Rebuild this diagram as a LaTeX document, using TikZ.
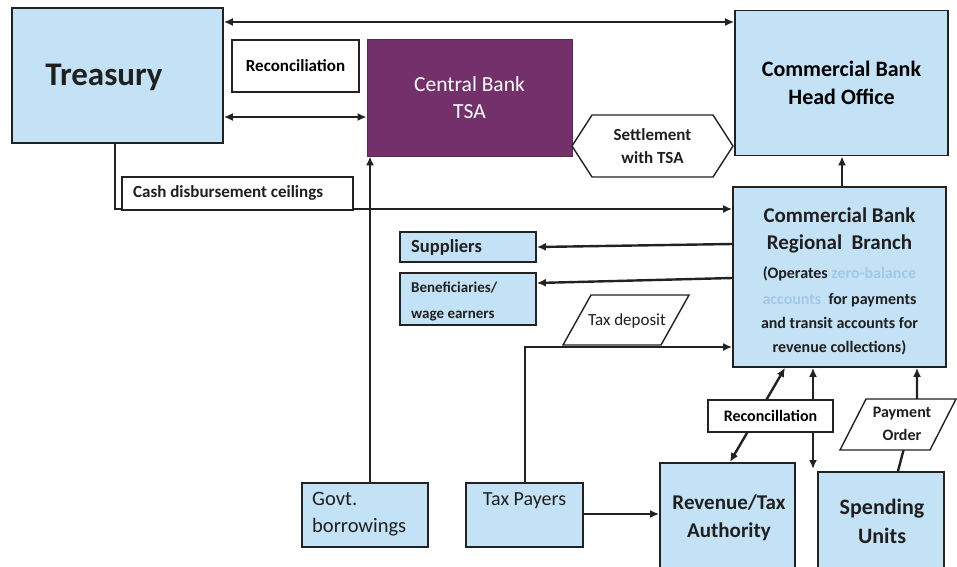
\documentclass[tikz,border=0pt]{standalone}
\usepackage{fontspec}
\setmainfont{Carlito}
\usetikzlibrary{arrows.meta}
\pgfdeclarelayer{background}
\pgfdeclarelayer{canvas}
\pgfsetlayers{canvas,background,main}
\definecolor{boxblue}{HTML}{C4E2F5}
\definecolor{tsapurple}{HTML}{74306B}
\definecolor{edgegrey}{HTML}{222222}
\definecolor{zbablue}{HTML}{A3C8E6}
\begin{document}
\begin{tikzpicture}[x=1pt,y=-1pt,
  bluebox/.style={draw=edgegrey, line width=1.7pt, fill=boxblue, inner sep=0pt},
  whitebox/.style={draw=edgegrey, line width=1.4pt, fill=white, inner sep=0pt},
  tsabox/.style={draw=tsapurple!80!black, line width=0.8pt, fill=tsapurple, inner sep=0pt, text=white},
  txt/.style={inner sep=0pt, text=black!88},
  conn/.style={draw=edgegrey, line width=2.4pt, -{Latex[length=9pt,width=8pt]}},
  biconn/.style={draw=edgegrey, line width=2.4pt, {Latex[length=9pt,width=8pt]}-{Latex[length=9pt,width=8pt]}},
]
\useasboundingbox (0,0) rectangle (957,566);
\begin{pgfonlayer}{canvas}
  \fill[white] (0,0) rectangle (957,566);
\end{pgfonlayer}

% ---- main boxes ----
\node[bluebox, minimum width=211pt, minimum height=135pt] (treasury) at (117.5,75.5) {};
\node[txt, font=\fontsize{33}{38}\selectfont\bfseries] (treasurylbl) at (104,77) {Treasury};

\node[whitebox, minimum width=127pt, minimum height=52pt] (recontop) at (295.5,66)
  {\fontsize{17}{20}\selectfont\bfseries Reconciliation};

\node[tsabox, minimum width=205pt, minimum height=117pt, align=center,
      font=\fontsize{21.5}{27}\selectfont] (cbank) at (469.5,97.5) {Central Bank\\TSA};

\node[bluebox, minimum width=213pt, minimum height=145pt, align=center,
      font=\fontsize{22}{28}\selectfont\bfseries] (hoffice) at (841.5,83) {Commercial Bank\\Head Office};

% settlement hexagon
\filldraw[draw=edgegrey, line width=1.4pt, fill=white]
  (572,146) -- (592,115) -- (713,115) -- (733,146) -- (713,177) -- (592,177) -- cycle;
\node[txt, align=center, font=\fontsize{17}{23}\selectfont\bfseries] (settle) at (652.5,146)
  {Settlement\\with TSA};

\node[whitebox, minimum width=231pt, minimum height=33pt] (cashbox) at (237.5,193.5) {};
\node[txt, anchor=west, font=\fontsize{17}{20}\selectfont\bfseries] (cashlbl) at (133,193)
  {Cash disbursement ceilings};

\node[bluebox, minimum width=213pt, minimum height=180pt] (rbranch) at (839.5,277) {};
\node[txt, align=center, font=\fontsize{16}{24}\selectfont\bfseries] (rbranchlbl) at (839.5,281)
  {{\fontsize{21}{28}\selectfont Commercial Bank}\\[3pt]
   {\fontsize{21}{28}\selectfont Regional\ \ Branch}\\[5pt]
   (Operates \textcolor{zbablue}{zero-balance}\\[2pt]
   \textcolor{zbablue}{accounts}\ \ for payments\\
   and transit accounts for\\
   revenue collections)};

\node[bluebox, minimum width=136pt, minimum height=30pt] (suppliers) at (468,247) {};
\node[txt, anchor=west, font=\fontsize{18.5}{22}\selectfont\bfseries] (supplierslbl) at (411,247) {Suppliers};

\node[bluebox, minimum width=136pt, minimum height=52pt] (benef) at (468,299) {};
\node[txt, anchor=west, align=left, font=\fontsize{15}{26}\selectfont\bfseries] (beneflbl) at (411,301)
  {Beneficiaries/\\wage earners};

% tax deposit parallelogram
\filldraw[draw=edgegrey, line width=1.4pt, fill=white]
  (563,345) -- (591,295) -- (689,295) -- (661,345) -- cycle;
\node[txt, font=\fontsize{17}{20}\selectfont] (taxdep) at (627,321) {Tax deposit};

% ---- bottom row ----
\node[bluebox, minimum width=126pt, minimum height=64pt] (govt) at (365,515) {};
\node[txt, anchor=west, align=left, font=\fontsize{20.5}{27}\selectfont] (govtlbl) at (312,514)
  {Govt.\\borrowings};

\node[bluebox, minimum width=117pt, minimum height=64pt] (taxpayers) at (524.5,515) {};
\node[txt, font=\fontsize{20}{24}\selectfont] (taxpayerslbl) at (524.5,501) {Tax Payers};

\node[bluebox, minimum width=135pt, minimum height=118pt, anchor=north] (revenue) at (727.5,462) {};
\node[txt, align=center, font=\fontsize{21}{28}\selectfont\bfseries] (revenuelbl) at (729,518)
  {Revenue/Tax\\Authority};

\node[bluebox, minimum width=126pt, minimum height=110pt, anchor=north] (spending) at (881,471) {};
\node[txt, align=center, font=\fontsize{22}{29}\selectfont\bfseries] (spendinglbl) at (882,521)
  {Spending\\Units};

\node[whitebox, minimum width=125pt, minimum height=32pt] (reconbot) at (770.5,416)
  {\fontsize{16}{18}\selectfont\bfseries Reconcillation};

% payment order parallelogram
\filldraw[draw=edgegrey, line width=1.4pt, fill=white]
  (840,450) -- (866,399) -- (956,399) -- (930,450) -- cycle;
\node[txt, align=center, font=\fontsize{16}{23}\selectfont\bfseries] (payorder) at (902,424)
  {Payment\\Order};

% ---- connectors ----
\begin{pgfonlayer}{background}
  \draw[biconn] (treasury.east |- 0,22) -- (hoffice.west |- 0,22);
  \draw[biconn] (treasury.east |- 0,117) -- (cbank.west |- 0,117);
  \draw[conn] (115,0 |- treasury.south) -- (115,209) -- (rbranch.west |- 0,209);
  \draw[conn] (370,0 |- govt.north) -- (370,0 |- cbank.south);
  \draw[conn] (842,0 |- rbranch.north) -- (842,0 |- hoffice.south);
  \draw[conn] (rbranch.west |- 0,244) -- (suppliers.east |- 0,247);
  \draw[conn] (rbranch.west |- 0,278) -- (benef.east |- 0,283);
  \draw[conn] (525,0 |- taxpayers.north) -- (525,347) -- (rbranch.west |- 0,347);
  \draw[conn] (taxpayers.east |- 0,514) -- (revenue.west |- 0,514);
  \draw[biconn] (730,0 |- revenue.north) -- (785,0 |- rbranch.south);
  \draw[biconn] (813,0 |- rbranch.south) -- (813,469);
  \draw[conn] (898,0 |- spending.north) -- (917,399) -- (917,0 |- rbranch.south);
\end{pgfonlayer}
\end{tikzpicture}
\end{document}
